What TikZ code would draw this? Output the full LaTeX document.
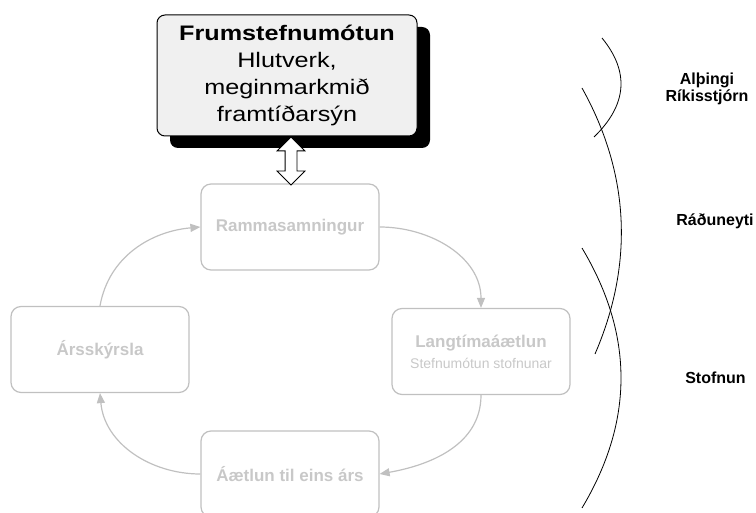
\documentclass[tikz,border=0pt]{standalone}
\usepackage{fontspec}
\setmainfont{Liberation Sans}
\newfontfamily\widefont{Liberation Sans}[FakeStretch=1.2]
\usepackage{tikz}
\usetikzlibrary{arrows.meta,shapes.arrows,shadows}

\definecolor{paleline}{RGB}{192,192,192}
\definecolor{paletext}{RGB}{200,200,200}
\definecolor{topfill}{RGB}{240,240,240}

\begin{document}
\begin{tikzpicture}[x=1pt, y=-1pt,
    stage/.style={rounded corners=10pt, draw=paleline, line width=1.2pt,
      text=paletext, minimum width=178pt, minimum height=86pt, align=center,
      font=\fontsize{17}{21}\selectfont\bfseries},
    cycle/.style={-{Triangle[length=10pt, width=8pt]}, draw=paleline, line width=1.2pt},
    level/.style={align=center, font=\fontsize{16}{17}\selectfont\bfseries},
    brace/.style={line width=0.8pt}]
    \useasboundingbox (0,0) rectangle (756,513);

    % Top box
    \node[draw, rounded corners=8pt, fill=topfill, line width=1pt,
      minimum width=260pt, minimum height=121pt, align=center,
      font=\widefont\fontsize{21}{27}\selectfont,
      drop shadow={shadow xshift=13pt, shadow yshift=-12pt, fill=black, opacity=1}]
      (top) at (287,75.5) {\textbf{Frumstefnumótun}\\Hlutverk,\\meginmarkmið\\framtíðarsýn};

    % Cycle boxes
    \node[stage] (ramma) at (290,227) {Rammasamningur};
    \node[stage] (langt) at (481,351.5) {Langtímaáætlun\\{\fontsize{14}{17}\selectfont\mdseries Stefnumótun stofnunar}};
    \node[stage] (aetlun) at (290,474) {Áætlun til eins árs};
    \node[stage] (arsk) at (100,349.5) {Ársskýrsla};

    % Link between top box and cycle
    \node[double arrow, draw, fill=white, rotate=90, line width=0.8pt,
      minimum height=48pt, minimum width=27pt, double arrow head extend=8pt,
      inner sep=5.5pt] (link) at (291,161) {};

    \draw[cycle] (ramma.east) to[out=0, in=90] (langt.north);
    \draw[cycle] (langt.south) to[out=-90, in=10] (aetlun.east);
    \draw[cycle] (aetlun.west) to[out=180, in=-85] (arsk.south);
    \draw[cycle] (arsk.north) to[out=80, in=185] (ramma.west);

    % Levels
    \draw[brace] (602,38) .. controls (629,71) and (628,104) .. (594,137);
    \draw[brace] (582,88) .. controls (631,176) and (633,266) .. (595,354);
    \draw[brace] (582,248) .. controls (634,335) and (634,421) .. (582,508);

    \node[level] (althingi) at (707,88.5) {Alþingi\\Ríkisstjórn};
    \node[level] (raduneyti) at (715,221.5) {Ráðuneyti};
    \node[level] (stofnun) at (715.5,377.3) {Stofnun};
\end{tikzpicture}
\end{document}
